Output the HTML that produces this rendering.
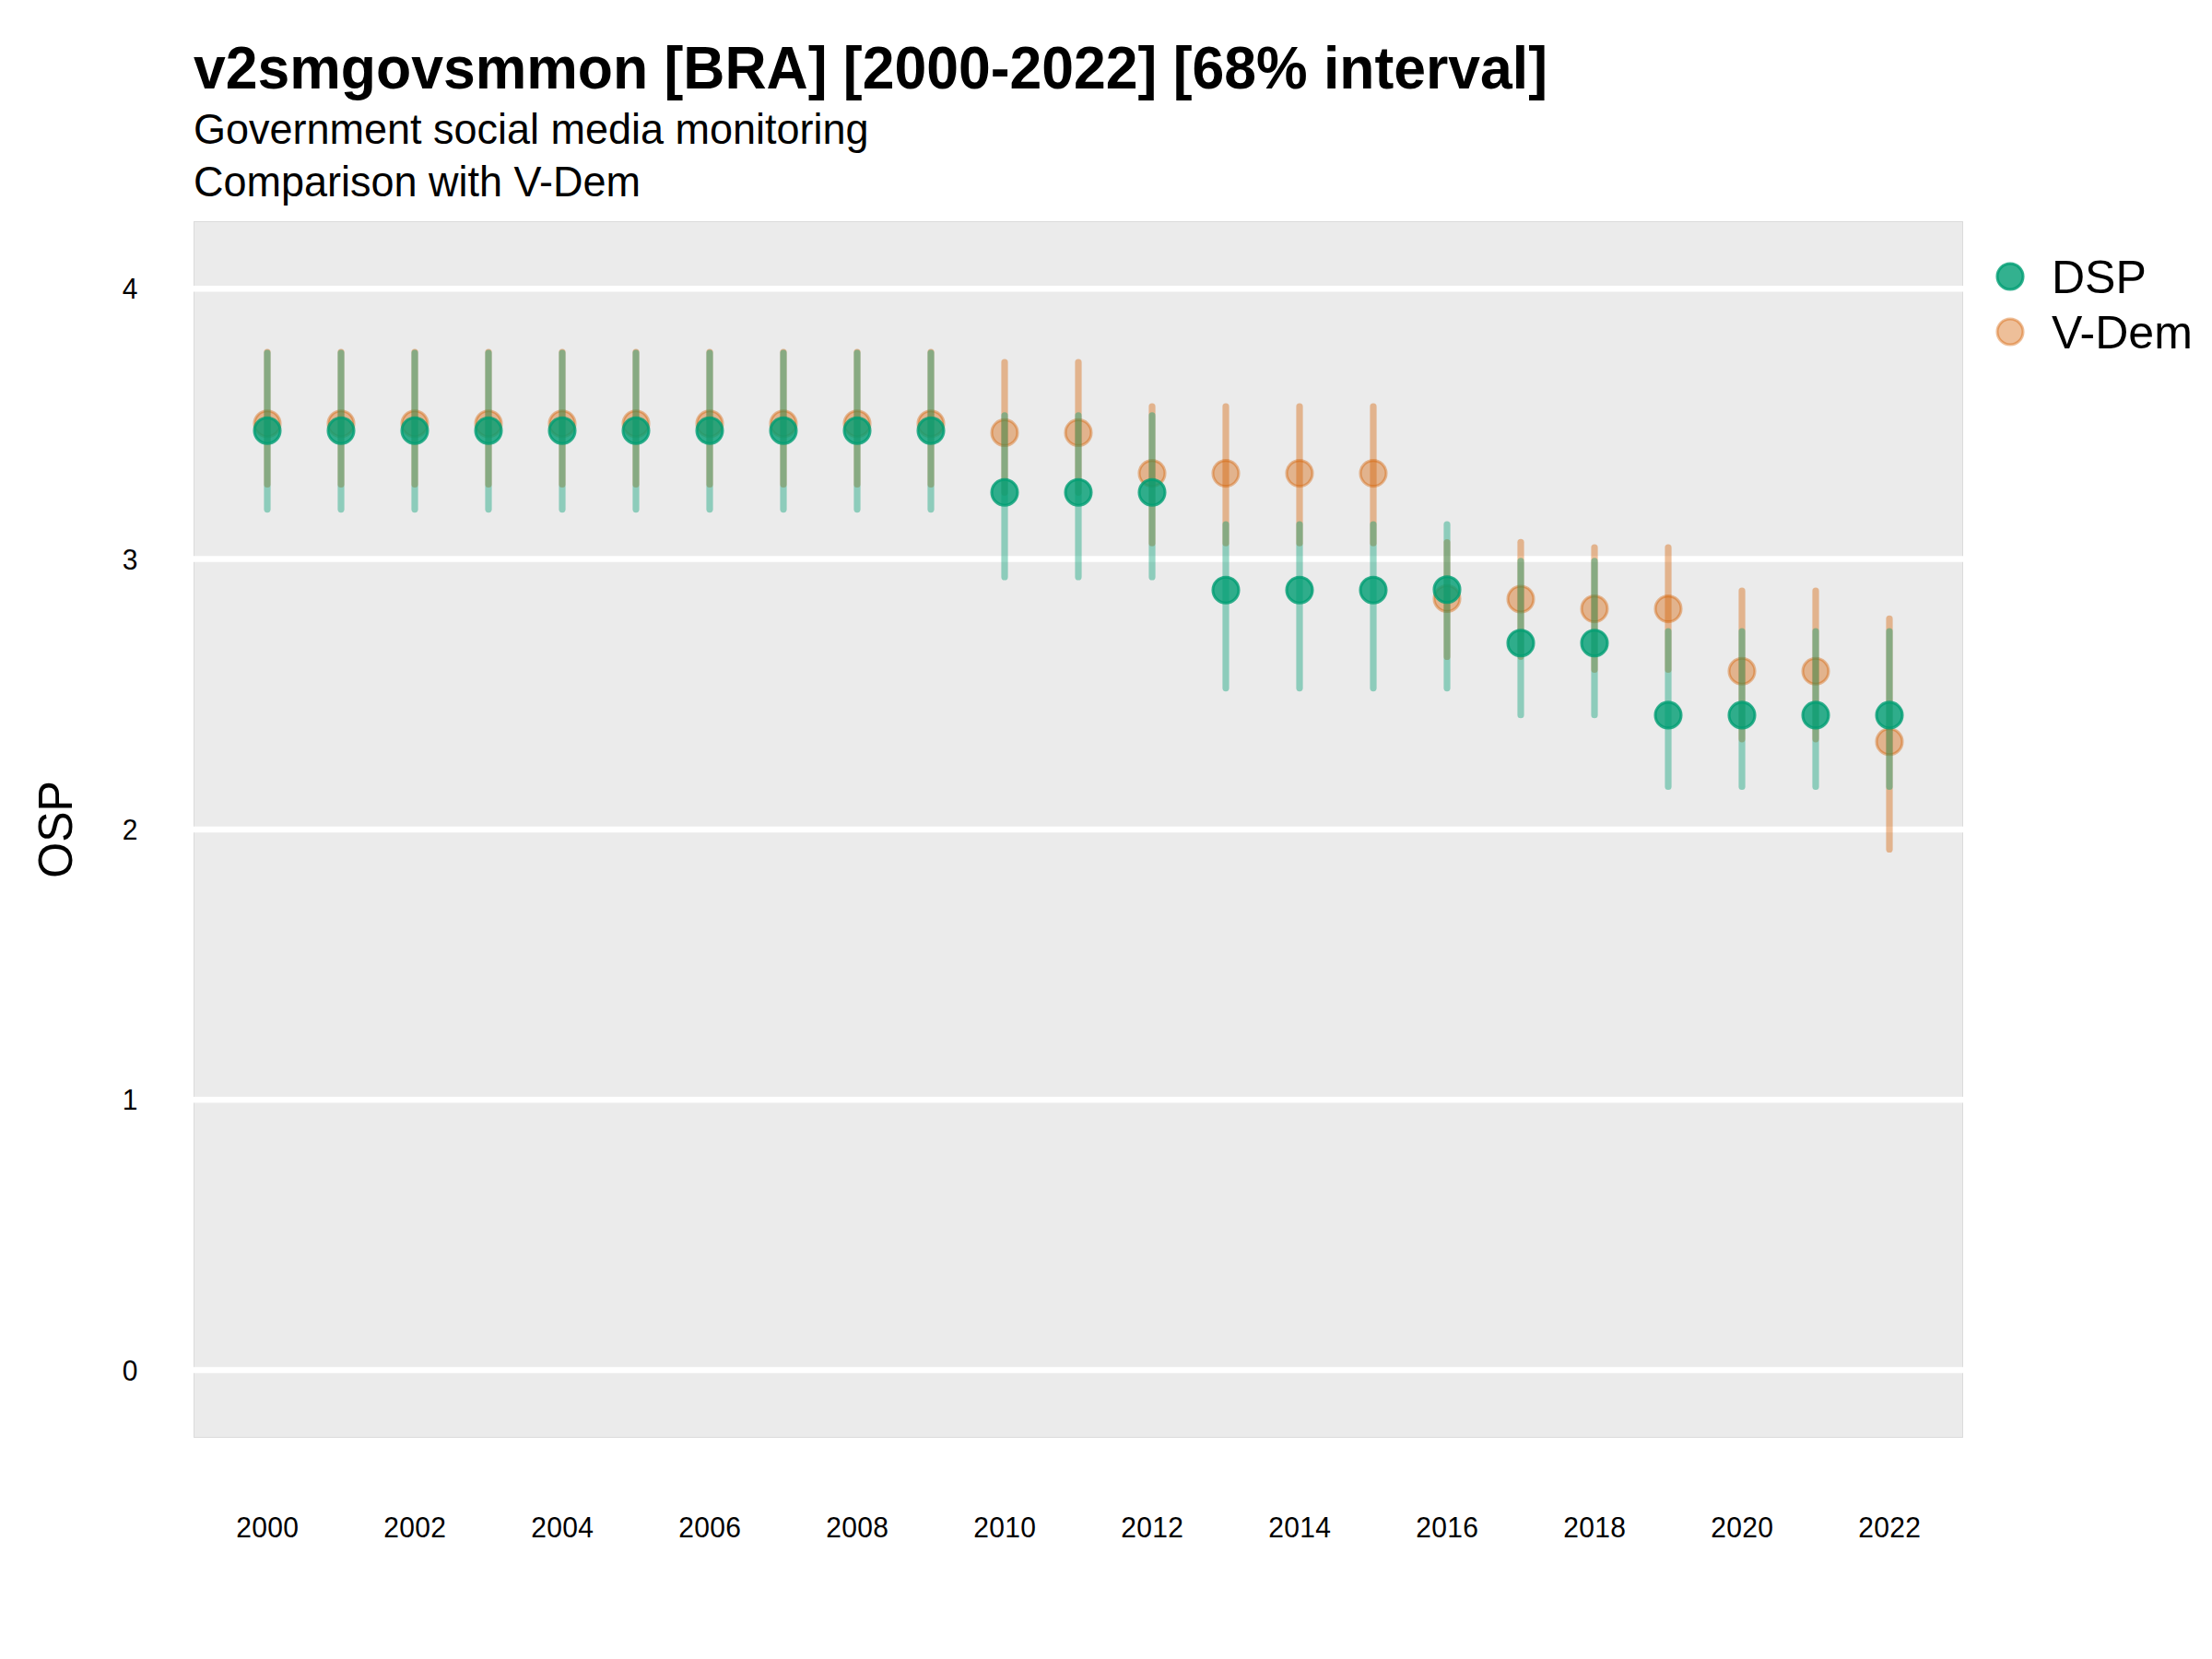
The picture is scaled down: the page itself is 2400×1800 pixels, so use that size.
<!DOCTYPE html>
<html lang="en"><head><meta charset="utf-8"><title>v2smgovsmmon [BRA]</title>
<style>html,body{margin:0;padding:0;background:#fff;overflow:hidden;width:2400px;height:1800px;}svg{display:block;}text{font-family:"Liberation Sans",Arial,Helvetica,sans-serif;fill:#000;}.ax{font-size:30px;letter-spacing:0.32px;}.big{font-size:50px;}.sub{font-size:45px;}.ttl{font-size:62.5px;font-weight:bold;}</style></head><body>
<svg width="2400" height="1800" viewBox="0 0 2400 1800">
<rect x="0" y="0" width="2400" height="1800" fill="#ffffff"/>
<rect x="210" y="240" width="1920" height="1320" fill="#dbdbdb"/>
<rect x="211" y="241" width="1918" height="1318" fill="#ebebeb"/>
<line x1="210" x2="2130" y1="1486.5" y2="1486.5" stroke="#ffffff" stroke-width="6.5"/>
<line x1="210" x2="2130" y1="1193.2" y2="1193.2" stroke="#ffffff" stroke-width="6.5"/>
<line x1="210" x2="2130" y1="899.9" y2="899.9" stroke="#ffffff" stroke-width="6.5"/>
<line x1="210" x2="2130" y1="606.5" y2="606.5" stroke="#ffffff" stroke-width="6.5"/>
<line x1="210" x2="2130" y1="313.2" y2="313.2" stroke="#ffffff" stroke-width="6.5"/>
<g stroke-linecap="round" fill="none">
<line x1="290" x2="290" y1="382.2" y2="525.5" stroke="#D55E00" stroke-opacity="0.4" stroke-width="7.2"/>
<circle cx="290" cy="459.7" r="14.0" fill="#D55E00" fill-opacity="0.4" stroke="#D55E00" stroke-opacity="0.4" stroke-width="3.1"/>
<line x1="370" x2="370" y1="382.2" y2="525.5" stroke="#D55E00" stroke-opacity="0.4" stroke-width="7.2"/>
<circle cx="370" cy="459.7" r="14.0" fill="#D55E00" fill-opacity="0.4" stroke="#D55E00" stroke-opacity="0.4" stroke-width="3.1"/>
<line x1="450" x2="450" y1="382.2" y2="525.5" stroke="#D55E00" stroke-opacity="0.4" stroke-width="7.2"/>
<circle cx="450" cy="459.7" r="14.0" fill="#D55E00" fill-opacity="0.4" stroke="#D55E00" stroke-opacity="0.4" stroke-width="3.1"/>
<line x1="530" x2="530" y1="382.2" y2="525.5" stroke="#D55E00" stroke-opacity="0.4" stroke-width="7.2"/>
<circle cx="530" cy="459.7" r="14.0" fill="#D55E00" fill-opacity="0.4" stroke="#D55E00" stroke-opacity="0.4" stroke-width="3.1"/>
<line x1="610" x2="610" y1="382.2" y2="525.5" stroke="#D55E00" stroke-opacity="0.4" stroke-width="7.2"/>
<circle cx="610" cy="459.7" r="14.0" fill="#D55E00" fill-opacity="0.4" stroke="#D55E00" stroke-opacity="0.4" stroke-width="3.1"/>
<line x1="690" x2="690" y1="382.2" y2="525.5" stroke="#D55E00" stroke-opacity="0.4" stroke-width="7.2"/>
<circle cx="690" cy="459.7" r="14.0" fill="#D55E00" fill-opacity="0.4" stroke="#D55E00" stroke-opacity="0.4" stroke-width="3.1"/>
<line x1="770" x2="770" y1="382.2" y2="525.5" stroke="#D55E00" stroke-opacity="0.4" stroke-width="7.2"/>
<circle cx="770" cy="459.7" r="14.0" fill="#D55E00" fill-opacity="0.4" stroke="#D55E00" stroke-opacity="0.4" stroke-width="3.1"/>
<line x1="850" x2="850" y1="382.2" y2="525.5" stroke="#D55E00" stroke-opacity="0.4" stroke-width="7.2"/>
<circle cx="850" cy="459.7" r="14.0" fill="#D55E00" fill-opacity="0.4" stroke="#D55E00" stroke-opacity="0.4" stroke-width="3.1"/>
<line x1="930" x2="930" y1="382.2" y2="525.5" stroke="#D55E00" stroke-opacity="0.4" stroke-width="7.2"/>
<circle cx="930" cy="459.7" r="14.0" fill="#D55E00" fill-opacity="0.4" stroke="#D55E00" stroke-opacity="0.4" stroke-width="3.1"/>
<line x1="1010" x2="1010" y1="382.2" y2="525.5" stroke="#D55E00" stroke-opacity="0.4" stroke-width="7.2"/>
<circle cx="1010" cy="459.7" r="14.0" fill="#D55E00" fill-opacity="0.4" stroke="#D55E00" stroke-opacity="0.4" stroke-width="3.1"/>
<line x1="1090" x2="1090" y1="393.0" y2="534.3" stroke="#D55E00" stroke-opacity="0.4" stroke-width="7.2"/>
<circle cx="1090" cy="469.4" r="14.0" fill="#D55E00" fill-opacity="0.4" stroke="#D55E00" stroke-opacity="0.4" stroke-width="3.1"/>
<line x1="1170" x2="1170" y1="393.0" y2="534.3" stroke="#D55E00" stroke-opacity="0.4" stroke-width="7.2"/>
<circle cx="1170" cy="469.4" r="14.0" fill="#D55E00" fill-opacity="0.4" stroke="#D55E00" stroke-opacity="0.4" stroke-width="3.1"/>
<line x1="1250" x2="1250" y1="441.1" y2="589.2" stroke="#D55E00" stroke-opacity="0.4" stroke-width="7.2"/>
<circle cx="1250" cy="513.6" r="14.0" fill="#D55E00" fill-opacity="0.4" stroke="#D55E00" stroke-opacity="0.4" stroke-width="3.1"/>
<line x1="1330" x2="1330" y1="441.1" y2="589.2" stroke="#D55E00" stroke-opacity="0.4" stroke-width="7.2"/>
<circle cx="1330" cy="513.6" r="14.0" fill="#D55E00" fill-opacity="0.4" stroke="#D55E00" stroke-opacity="0.4" stroke-width="3.1"/>
<line x1="1410" x2="1410" y1="441.1" y2="589.2" stroke="#D55E00" stroke-opacity="0.4" stroke-width="7.2"/>
<circle cx="1410" cy="513.6" r="14.0" fill="#D55E00" fill-opacity="0.4" stroke="#D55E00" stroke-opacity="0.4" stroke-width="3.1"/>
<line x1="1490" x2="1490" y1="441.1" y2="589.2" stroke="#D55E00" stroke-opacity="0.4" stroke-width="7.2"/>
<circle cx="1490" cy="513.6" r="14.0" fill="#D55E00" fill-opacity="0.4" stroke="#D55E00" stroke-opacity="0.4" stroke-width="3.1"/>
<line x1="1570" x2="1570" y1="588.6" y2="712.4" stroke="#D55E00" stroke-opacity="0.4" stroke-width="7.2"/>
<circle cx="1570" cy="649.4" r="14.0" fill="#D55E00" fill-opacity="0.4" stroke="#D55E00" stroke-opacity="0.4" stroke-width="3.1"/>
<line x1="1650" x2="1650" y1="588.3" y2="712.3" stroke="#D55E00" stroke-opacity="0.4" stroke-width="7.2"/>
<circle cx="1650" cy="650.0" r="14.0" fill="#D55E00" fill-opacity="0.4" stroke="#D55E00" stroke-opacity="0.4" stroke-width="3.1"/>
<line x1="1730" x2="1730" y1="594.1" y2="726.5" stroke="#D55E00" stroke-opacity="0.4" stroke-width="7.2"/>
<circle cx="1730" cy="660.6" r="14.0" fill="#D55E00" fill-opacity="0.4" stroke="#D55E00" stroke-opacity="0.4" stroke-width="3.1"/>
<line x1="1810" x2="1810" y1="594.1" y2="726.5" stroke="#D55E00" stroke-opacity="0.4" stroke-width="7.2"/>
<circle cx="1810" cy="660.6" r="14.0" fill="#D55E00" fill-opacity="0.4" stroke="#D55E00" stroke-opacity="0.4" stroke-width="3.1"/>
<line x1="1890" x2="1890" y1="641.1" y2="801.8" stroke="#D55E00" stroke-opacity="0.4" stroke-width="7.2"/>
<circle cx="1890" cy="728.3" r="14.0" fill="#D55E00" fill-opacity="0.4" stroke="#D55E00" stroke-opacity="0.4" stroke-width="3.1"/>
<line x1="1970" x2="1970" y1="641.1" y2="801.8" stroke="#D55E00" stroke-opacity="0.4" stroke-width="7.2"/>
<circle cx="1970" cy="728.3" r="14.0" fill="#D55E00" fill-opacity="0.4" stroke="#D55E00" stroke-opacity="0.4" stroke-width="3.1"/>
<line x1="2050" x2="2050" y1="671.4" y2="921.4" stroke="#D55E00" stroke-opacity="0.4" stroke-width="7.2"/>
<circle cx="2050" cy="804.8" r="14.0" fill="#D55E00" fill-opacity="0.4" stroke="#D55E00" stroke-opacity="0.4" stroke-width="3.1"/>
<line x1="290" x2="290" y1="383.0" y2="552.6" stroke="#009E73" stroke-opacity="0.4" stroke-width="7.2"/>
<line x1="370" x2="370" y1="383.0" y2="552.6" stroke="#009E73" stroke-opacity="0.4" stroke-width="7.2"/>
<line x1="450" x2="450" y1="383.0" y2="552.6" stroke="#009E73" stroke-opacity="0.4" stroke-width="7.2"/>
<line x1="530" x2="530" y1="383.0" y2="552.6" stroke="#009E73" stroke-opacity="0.4" stroke-width="7.2"/>
<line x1="610" x2="610" y1="383.0" y2="552.6" stroke="#009E73" stroke-opacity="0.4" stroke-width="7.2"/>
<line x1="690" x2="690" y1="383.0" y2="552.6" stroke="#009E73" stroke-opacity="0.4" stroke-width="7.2"/>
<line x1="770" x2="770" y1="383.0" y2="552.6" stroke="#009E73" stroke-opacity="0.4" stroke-width="7.2"/>
<line x1="850" x2="850" y1="383.0" y2="552.6" stroke="#009E73" stroke-opacity="0.4" stroke-width="7.2"/>
<line x1="930" x2="930" y1="383.0" y2="552.6" stroke="#009E73" stroke-opacity="0.4" stroke-width="7.2"/>
<line x1="1010" x2="1010" y1="383.0" y2="552.6" stroke="#009E73" stroke-opacity="0.4" stroke-width="7.2"/>
<line x1="1090" x2="1090" y1="450.9" y2="625.9" stroke="#009E73" stroke-opacity="0.4" stroke-width="7.2"/>
<line x1="1170" x2="1170" y1="450.9" y2="625.9" stroke="#009E73" stroke-opacity="0.4" stroke-width="7.2"/>
<line x1="1250" x2="1250" y1="450.9" y2="625.9" stroke="#009E73" stroke-opacity="0.4" stroke-width="7.2"/>
<line x1="1330" x2="1330" y1="569.2" y2="746.6" stroke="#009E73" stroke-opacity="0.4" stroke-width="7.2"/>
<line x1="1410" x2="1410" y1="569.2" y2="746.6" stroke="#009E73" stroke-opacity="0.4" stroke-width="7.2"/>
<line x1="1490" x2="1490" y1="569.2" y2="746.6" stroke="#009E73" stroke-opacity="0.4" stroke-width="7.2"/>
<line x1="1570" x2="1570" y1="569.2" y2="746.6" stroke="#009E73" stroke-opacity="0.4" stroke-width="7.2"/>
<line x1="1650" x2="1650" y1="608.9" y2="775.7" stroke="#009E73" stroke-opacity="0.4" stroke-width="7.2"/>
<line x1="1730" x2="1730" y1="608.9" y2="775.7" stroke="#009E73" stroke-opacity="0.4" stroke-width="7.2"/>
<line x1="1810" x2="1810" y1="685.1" y2="853.5" stroke="#009E73" stroke-opacity="0.4" stroke-width="7.2"/>
<line x1="1890" x2="1890" y1="685.1" y2="853.5" stroke="#009E73" stroke-opacity="0.4" stroke-width="7.2"/>
<line x1="1970" x2="1970" y1="685.1" y2="853.5" stroke="#009E73" stroke-opacity="0.4" stroke-width="7.2"/>
<line x1="2050" x2="2050" y1="685.1" y2="853.5" stroke="#009E73" stroke-opacity="0.4" stroke-width="7.2"/>
<circle cx="290" cy="467.2" r="14.0" fill="#009E73" fill-opacity="0.8" stroke="#009E73" stroke-opacity="0.8" stroke-width="3.1"/>
<circle cx="370" cy="467.2" r="14.0" fill="#009E73" fill-opacity="0.8" stroke="#009E73" stroke-opacity="0.8" stroke-width="3.1"/>
<circle cx="450" cy="467.2" r="14.0" fill="#009E73" fill-opacity="0.8" stroke="#009E73" stroke-opacity="0.8" stroke-width="3.1"/>
<circle cx="530" cy="467.2" r="14.0" fill="#009E73" fill-opacity="0.8" stroke="#009E73" stroke-opacity="0.8" stroke-width="3.1"/>
<circle cx="610" cy="467.2" r="14.0" fill="#009E73" fill-opacity="0.8" stroke="#009E73" stroke-opacity="0.8" stroke-width="3.1"/>
<circle cx="690" cy="467.2" r="14.0" fill="#009E73" fill-opacity="0.8" stroke="#009E73" stroke-opacity="0.8" stroke-width="3.1"/>
<circle cx="770" cy="467.2" r="14.0" fill="#009E73" fill-opacity="0.8" stroke="#009E73" stroke-opacity="0.8" stroke-width="3.1"/>
<circle cx="850" cy="467.2" r="14.0" fill="#009E73" fill-opacity="0.8" stroke="#009E73" stroke-opacity="0.8" stroke-width="3.1"/>
<circle cx="930" cy="467.2" r="14.0" fill="#009E73" fill-opacity="0.8" stroke="#009E73" stroke-opacity="0.8" stroke-width="3.1"/>
<circle cx="1010" cy="467.2" r="14.0" fill="#009E73" fill-opacity="0.8" stroke="#009E73" stroke-opacity="0.8" stroke-width="3.1"/>
<circle cx="1090" cy="534.2" r="14.0" fill="#009E73" fill-opacity="0.8" stroke="#009E73" stroke-opacity="0.8" stroke-width="3.1"/>
<circle cx="1170" cy="534.2" r="14.0" fill="#009E73" fill-opacity="0.8" stroke="#009E73" stroke-opacity="0.8" stroke-width="3.1"/>
<circle cx="1250" cy="534.2" r="14.0" fill="#009E73" fill-opacity="0.8" stroke="#009E73" stroke-opacity="0.8" stroke-width="3.1"/>
<circle cx="1330" cy="640.2" r="14.0" fill="#009E73" fill-opacity="0.8" stroke="#009E73" stroke-opacity="0.8" stroke-width="3.1"/>
<circle cx="1410" cy="640.2" r="14.0" fill="#009E73" fill-opacity="0.8" stroke="#009E73" stroke-opacity="0.8" stroke-width="3.1"/>
<circle cx="1490" cy="640.2" r="14.0" fill="#009E73" fill-opacity="0.8" stroke="#009E73" stroke-opacity="0.8" stroke-width="3.1"/>
<circle cx="1570" cy="639.8" r="14.0" fill="#009E73" fill-opacity="0.8" stroke="#009E73" stroke-opacity="0.8" stroke-width="3.1"/>
<circle cx="1650" cy="697.7" r="14.0" fill="#009E73" fill-opacity="0.8" stroke="#009E73" stroke-opacity="0.8" stroke-width="3.1"/>
<circle cx="1730" cy="697.7" r="14.0" fill="#009E73" fill-opacity="0.8" stroke="#009E73" stroke-opacity="0.8" stroke-width="3.1"/>
<circle cx="1810" cy="775.9" r="14.0" fill="#009E73" fill-opacity="0.8" stroke="#009E73" stroke-opacity="0.8" stroke-width="3.1"/>
<circle cx="1890" cy="775.9" r="14.0" fill="#009E73" fill-opacity="0.8" stroke="#009E73" stroke-opacity="0.8" stroke-width="3.1"/>
<circle cx="1970" cy="775.9" r="14.0" fill="#009E73" fill-opacity="0.8" stroke="#009E73" stroke-opacity="0.8" stroke-width="3.1"/>
<circle cx="2050" cy="775.9" r="14.0" fill="#009E73" fill-opacity="0.8" stroke="#009E73" stroke-opacity="0.8" stroke-width="3.1"/>
</g>
<text class="ax" transform="translate(149.8,1498) scale(1,1.02)" text-anchor="end">0</text>
<text class="ax" transform="translate(149.8,1204) scale(1,1.02)" text-anchor="end">1</text>
<text class="ax" transform="translate(149.8,911) scale(1,1.02)" text-anchor="end">2</text>
<text class="ax" transform="translate(149.8,618) scale(1,1.02)" text-anchor="end">3</text>
<text class="ax" transform="translate(149.8,324) scale(1,1.02)" text-anchor="end">4</text>
<text class="ax" transform="translate(290.2,1668) scale(1,1.03)" text-anchor="middle">2000</text>
<text class="ax" transform="translate(450.2,1668) scale(1,1.03)" text-anchor="middle">2002</text>
<text class="ax" transform="translate(610.2,1668) scale(1,1.03)" text-anchor="middle">2004</text>
<text class="ax" transform="translate(770.2,1668) scale(1,1.03)" text-anchor="middle">2006</text>
<text class="ax" transform="translate(930.2,1668) scale(1,1.03)" text-anchor="middle">2008</text>
<text class="ax" transform="translate(1090.2,1668) scale(1,1.03)" text-anchor="middle">2010</text>
<text class="ax" transform="translate(1250.2,1668) scale(1,1.03)" text-anchor="middle">2012</text>
<text class="ax" transform="translate(1410.2,1668) scale(1,1.03)" text-anchor="middle">2014</text>
<text class="ax" transform="translate(1570.2,1668) scale(1,1.03)" text-anchor="middle">2016</text>
<text class="ax" transform="translate(1730.2,1668) scale(1,1.03)" text-anchor="middle">2018</text>
<text class="ax" transform="translate(1890.2,1668) scale(1,1.03)" text-anchor="middle">2020</text>
<text class="ax" transform="translate(2050.2,1668) scale(1,1.03)" text-anchor="middle">2022</text>
<text class="big" transform="translate(78.1,899.9) rotate(-90) scale(1,1.03)" text-anchor="middle">OSP</text>
<text class="ttl" transform="translate(210,96.4) scale(1,1.04)">v2smgovsmmon [BRA] [2000-2022] [68% interval]</text>
<text class="sub" transform="translate(210,156) scale(1,1.04)">Government social media monitoring</text>
<text class="sub" transform="translate(210,213) scale(1,1.04)">Comparison with V-Dem</text>
<circle cx="2181" cy="300" r="14.0" fill="#009E73" fill-opacity="0.8" stroke="#009E73" stroke-opacity="0.8" stroke-width="3.1"/>
<circle cx="2181" cy="360" r="14.0" fill="#D55E00" fill-opacity="0.4" stroke="#D55E00" stroke-opacity="0.4" stroke-width="3.1"/>
<text class="big" x="2226" y="317.9">DSP</text>
<text class="big" x="2226" y="378.1">V-Dem</text>
</svg></body></html>
